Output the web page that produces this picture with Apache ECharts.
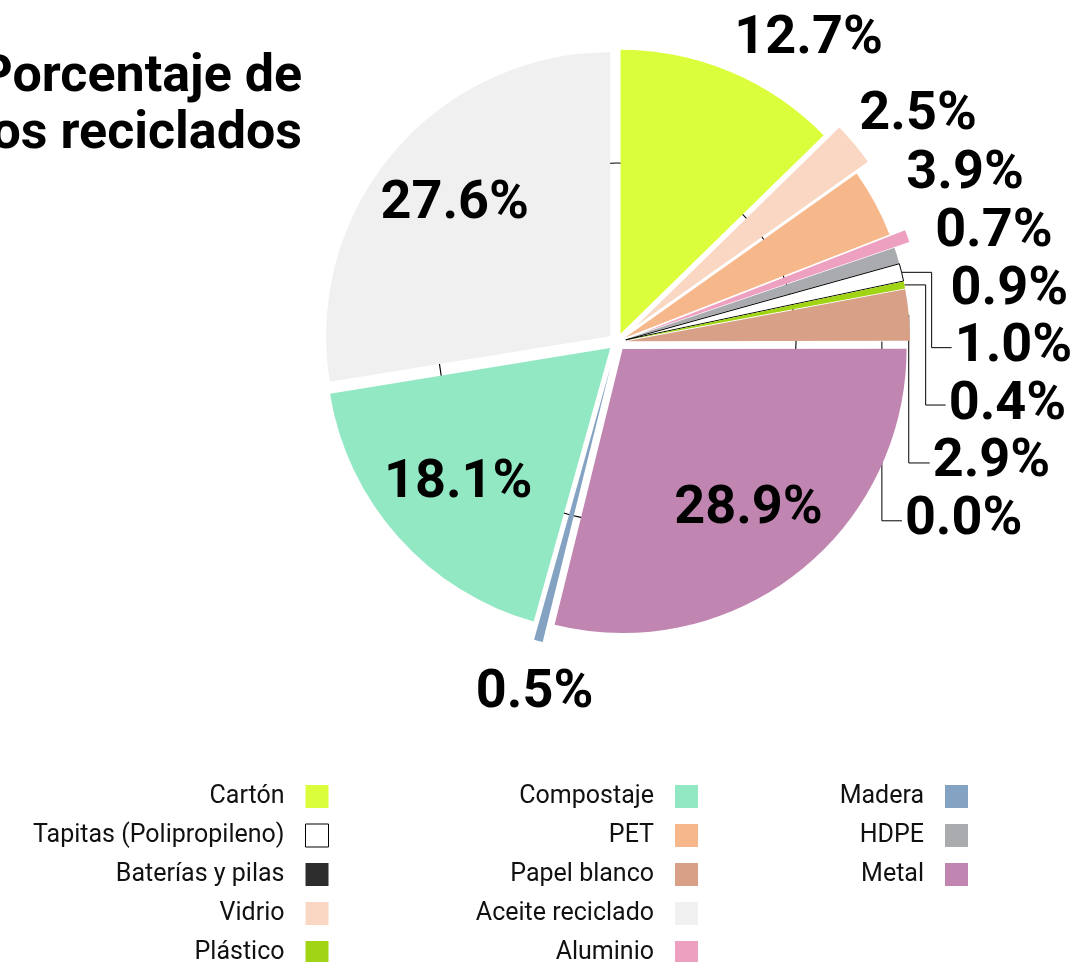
<!DOCTYPE html>
<html>
<head>
<meta charset="utf-8">
<title>Porcentaje de residuos reciclados</title>
<script src="https://cdn.jsdelivr.net/npm/echarts@6/dist/echarts.min.js"></script>
<style>
  html, body { margin: 0; padding: 0; background: #fff; }
  #chart { width: 1075px; height: 962px; }
</style>
</head>
<body>
<div id="chart"></div>
<script>
// slices, clockwise from 12 o'clock
const materials = ['Cartón', 'Vidrio', 'PET', 'Aluminio', 'HDPE', 'Tapitas (Polipropileno)', 'Plástico',
    'Papel blanco', 'Baterías y pilas', 'Metal', 'Madera', 'Compostaje', 'Aceite reciclado'];
const shares = [12.7, 2.5, 3.9, 0.7, 0.9, 1.0, 0.4, 2.9, 0.0, 28.9, 0.5, 18.1, 27.6];
const colors = ['#dafe3c', '#f9d7c2', '#f6b78a', '#eea0c0', '#aaabae', '#ffffff', '#a0d414',
    '#d9a088', '#2d2d2d', '#c086b1', '#84a3c2', '#93e8c4', '#f0f0f0'];

// legend columns
const legendCol1 = ['Cartón', 'Tapitas (Polipropileno)', 'Baterías y pilas', 'Vidrio', 'Plástico'];
const legendCol2 = ['Compostaje', 'PET', 'Papel blanco', 'Aceite reciclado', 'Aluminio'];
const legendCol3 = ['Madera', 'HDPE', 'Metal'];

const pulled = ['Vidrio', 'Aluminio', 'Madera'];
const insideLabels = ['Metal', 'Compostaje', 'Aceite reciclado'];
const linedLabels = ['Tapitas (Polipropileno)', 'Plástico', 'Papel blanco', 'Baterías y pilas'];
const lineLengths = {'Cartón': 35, 'Madera': 70};

const pieCenter = [617, 342];
const pieRadius = 284;
const font = 'Roboto';
const none = 'rgba(0,0,0,0)';

let chart = echarts.init(document.getElementById('chart'));

let legendOf = function (names, right) {
    return {
        orient: 'vertical', align: 'right', right: right, top: 784, height: 200,
        itemWidth: 23, itemHeight: 23, itemGap: 14, icon: 'rect', selectedMode: false, padding: 0,
        textStyle: {fontFamily: font, fontSize: 25, color: '#111', lineHeight: 23, padding: [0, 16, 0, 0]},
        data: names.map(function (n) {
            let i = materials.indexOf(n);
            return {
                name: n,
                itemStyle: {color: colors[i], borderColor: '#000', borderWidth: n === 'Tapitas (Polipropileno)' ? 1 : 0}
            };
        })
    };
};

// visible(n): slice drawn; labels(n): 'outside' | 'inside' | false
let sliceData = function (visible, labels) {
    return materials.map(function (n, i) {
        let tapa = n === 'Tapitas (Polipropileno)';
        let st = {
            color: visible(n) ? colors[i] : none,
            borderColor: tapa && visible(n) ? '#000' : none,
            borderWidth: tapa ? 1 : 0
        };
        let item = {name: n, value: shares[i], selected: true, itemStyle: st, select: {itemStyle: st}};
        let kind = labels(n);
        if (!kind) {
            item.label = {show: false};
            item.labelLine = {show: false};
        } else {
            item.label = {position: kind};
            item.labelLine = {show: linedLabels.indexOf(n) >= 0};
            if (lineLengths[n]) item.labelLine.length = lineLengths[n];
        }
        return item;
    });
};

let labelLayout = function (p) {
    let n = materials[p.dataIndex];
    let r = p.labelRect;
    let my = r.y + r.height / 2;
    let pts = p.labelLinePoints;
    if (!pts) return;
    let s = pts[0];
    let vx = s[0] - pieCenter[0], vy = s[1] - pieCenter[1];
    let len = Math.hypot(vx, vy);
    if (vy > 0 && Math.abs(vx) < 0.35 * len) {
        // label sitting right under the slice
        return {x: pts[1][0], y: pts[1][1] + r.height / 2, align: 'center'};
    }
    if (linedLabels.indexOf(n) >= 0) {
        let endX = r.x - 3;
        let d = endX - s[0];
        if (d > 25) {
            let knee = endX - 20;
            return {labelLinePoints: [s, [knee, s[1]], [knee, my], [endX, my]]};
        }
        if (d < 12) {
            // slide the start back along the slice ray
            let t = (s[0] - (endX - 20)) / (vx / len);
            s = [s[0] - t * vx / len, s[1] - t * vy / len];
        }
        return {labelLinePoints: [s, [s[0], my], [endX, my]]};
    }
};

let labelFont = {fontFamily: font, fontWeight: 'bold', fontSize: 54, lineHeight: 55, color: '#000'};
let fmt = function (p) { return p.value.toFixed(1) + '%'; };

let option = {
    animation: false,
    backgroundColor: '#fff',
    title: {
        text: 'Porcentaje de\nresiduos reciclados',
        left: 302, top: 49, textAlign: 'right', padding: 0,
        textStyle: {fontFamily: font, fontWeight: 'bold', fontSize: 52, lineHeight: 57, color: '#000'}
    },
    legend: [legendOf(legendCol1, 746), legendOf(legendCol2, 377), legendOf(legendCol3, 107)],
    series: [
        {
            // thin guide circle, only visible through the gaps
            type: 'pie', center: pieCenter, radius: [178.5, 179.6], silent: true, z: 1,
            label: {show: false}, labelLine: {show: false}, emphasis: {disabled: true},
            itemStyle: {color: '#000'},
            data: [{name: '', value: 1}]
        },
        {
            type: 'pie', center: pieCenter, radius: pieRadius, startAngle: 90, clockwise: true,
            selectedMode: 'multiple', selectedOffset: 9, z: 3,
            avoidLabelOverlap: true,
            emphasis: {disabled: true},
            label: Object.assign({position: 'outside', overflow: 'none', formatter: fmt}, labelFont),
            labelLine: {show: false, length: 60, length2: -15, lineStyle: {color: '#000', width: 1}},
            labelLayout: labelLayout,
            data: sliceData(function (n) { return pulled.indexOf(n) < 0; },
                function (n) { return insideLabels.indexOf(n) < 0 ? 'outside' : false; })
        },
        {
            type: 'pie', center: pieCenter, radius: pieRadius, startAngle: 90, clockwise: true,
            selectedMode: 'multiple', selectedOffset: 25, z: 4, silent: true,
            emphasis: {disabled: true},
            data: sliceData(function (n) { return pulled.indexOf(n) >= 0; }, function () { return false; })
        },
        {
            // carrier for the labels printed inside the large slices
            type: 'pie', center: pieCenter, radius: [118, pieRadius], startAngle: 90, clockwise: true,
            selectedMode: 'multiple', selectedOffset: 9, z: 5, silent: true,
            emphasis: {disabled: true},
            label: Object.assign({position: 'inside', overflow: 'none', formatter: fmt}, labelFont),
            data: sliceData(function () { return false; },
                function (n) { return insideLabels.indexOf(n) >= 0 ? 'inside' : false; })
        }
    ]
};
chart.setOption(option);
</script>
</body>
</html>
